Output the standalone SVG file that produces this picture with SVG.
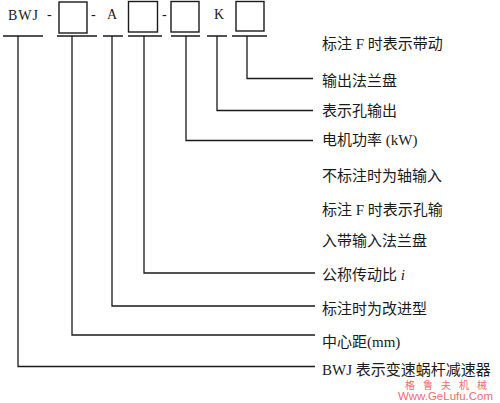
<svg xmlns="http://www.w3.org/2000/svg" width="500" height="403" viewBox="0 0 500 403">
<style>
.ln{fill:none;stroke:#1a1a1a;stroke-width:1.3}
.bx{fill:#fff;stroke:#1a1a1a;stroke-width:1.4}
.code{font-family:"Liberation Serif","Noto Sans CJK SC",serif;font-size:14px;fill:#1a1a1a}
.lbl{font-family:"Liberation Serif","Noto Sans CJK SC",serif;font-size:15px;fill:#1a1a1a}
.wm{font-family:"Liberation Sans","Noto Sans CJK SC",sans-serif;fill:#f26a6a}
</style>
<rect width="500" height="403" fill="#fff"/>
<g id="code">
<text class="code" x="8" y="20" textLength="30" lengthAdjust="spacing">BWJ</text>
<text class="code" x="47" y="19">-</text>
<rect id="box1" class="bx" x="59" y="2" width="28" height="31"/>
<text class="code" x="91" y="19">-</text>
<text class="code" x="107" y="19">A</text>
<rect id="box2" class="bx" x="128.5" y="1.5" width="29" height="30.5"/>
<text class="code" x="162" y="19">-</text>
<rect id="box3" class="bx" x="171" y="1.5" width="28" height="30.5"/>
<text class="code" x="214" y="19">K</text>
<rect id="box4" class="bx" x="236" y="1.5" width="28" height="29.5"/>
</g>
<g id="underlines" class="ln">
<path d="M3,36H43M57,36H97M103,36H123M128,36H162M171,36H200M207,36H227M232,36H267"/>
</g>
<g id="connectors" class="ln">
<path d="M247,36V78.5H313"/>
<path d="M217,36V110.5H313"/>
<path d="M186,36V140.5H313"/>
<path d="M144,36V273H315"/>
<path d="M112,36V306H315"/>
<path d="M72,36V335H315"/>
<path d="M18,36V366.5H315"/>
</g>
<g id="labels">
<text class="lbl" x="322" y="49">标注 F 时表示带动</text>
<text class="lbl" x="322" y="86">输出法兰盘</text>
<text class="lbl" x="322" y="116">表示孔输出</text>
<text class="lbl" x="322" y="145">电机功率 (kW)</text>
<text class="lbl" x="322" y="181">不标注时为轴输入</text>
<text class="lbl" x="322" y="215">标注 F 时表示孔输</text>
<text class="lbl" x="322" y="246">入带输入法兰盘</text>
<text class="lbl" x="322" y="280">公称传动比 <tspan font-style="italic">i</tspan></text>
<text class="lbl" x="322" y="314">标注时为改进型</text>
<text class="lbl" x="322" y="347">中心距(mm)</text>
<text class="lbl" x="322" y="375">BWJ 表示变速蜗杆减速器</text>
</g>
<g id="watermark">
<text class="wm" x="405" y="389" font-size="10" textLength="82" lengthAdjust="spacing">格鲁夫机械</text>
<text class="wm" x="398" y="400" font-size="11.5" textLength="95" lengthAdjust="spacingAndGlyphs">Www.GeLufu.Com</text>
</g>
</svg>
